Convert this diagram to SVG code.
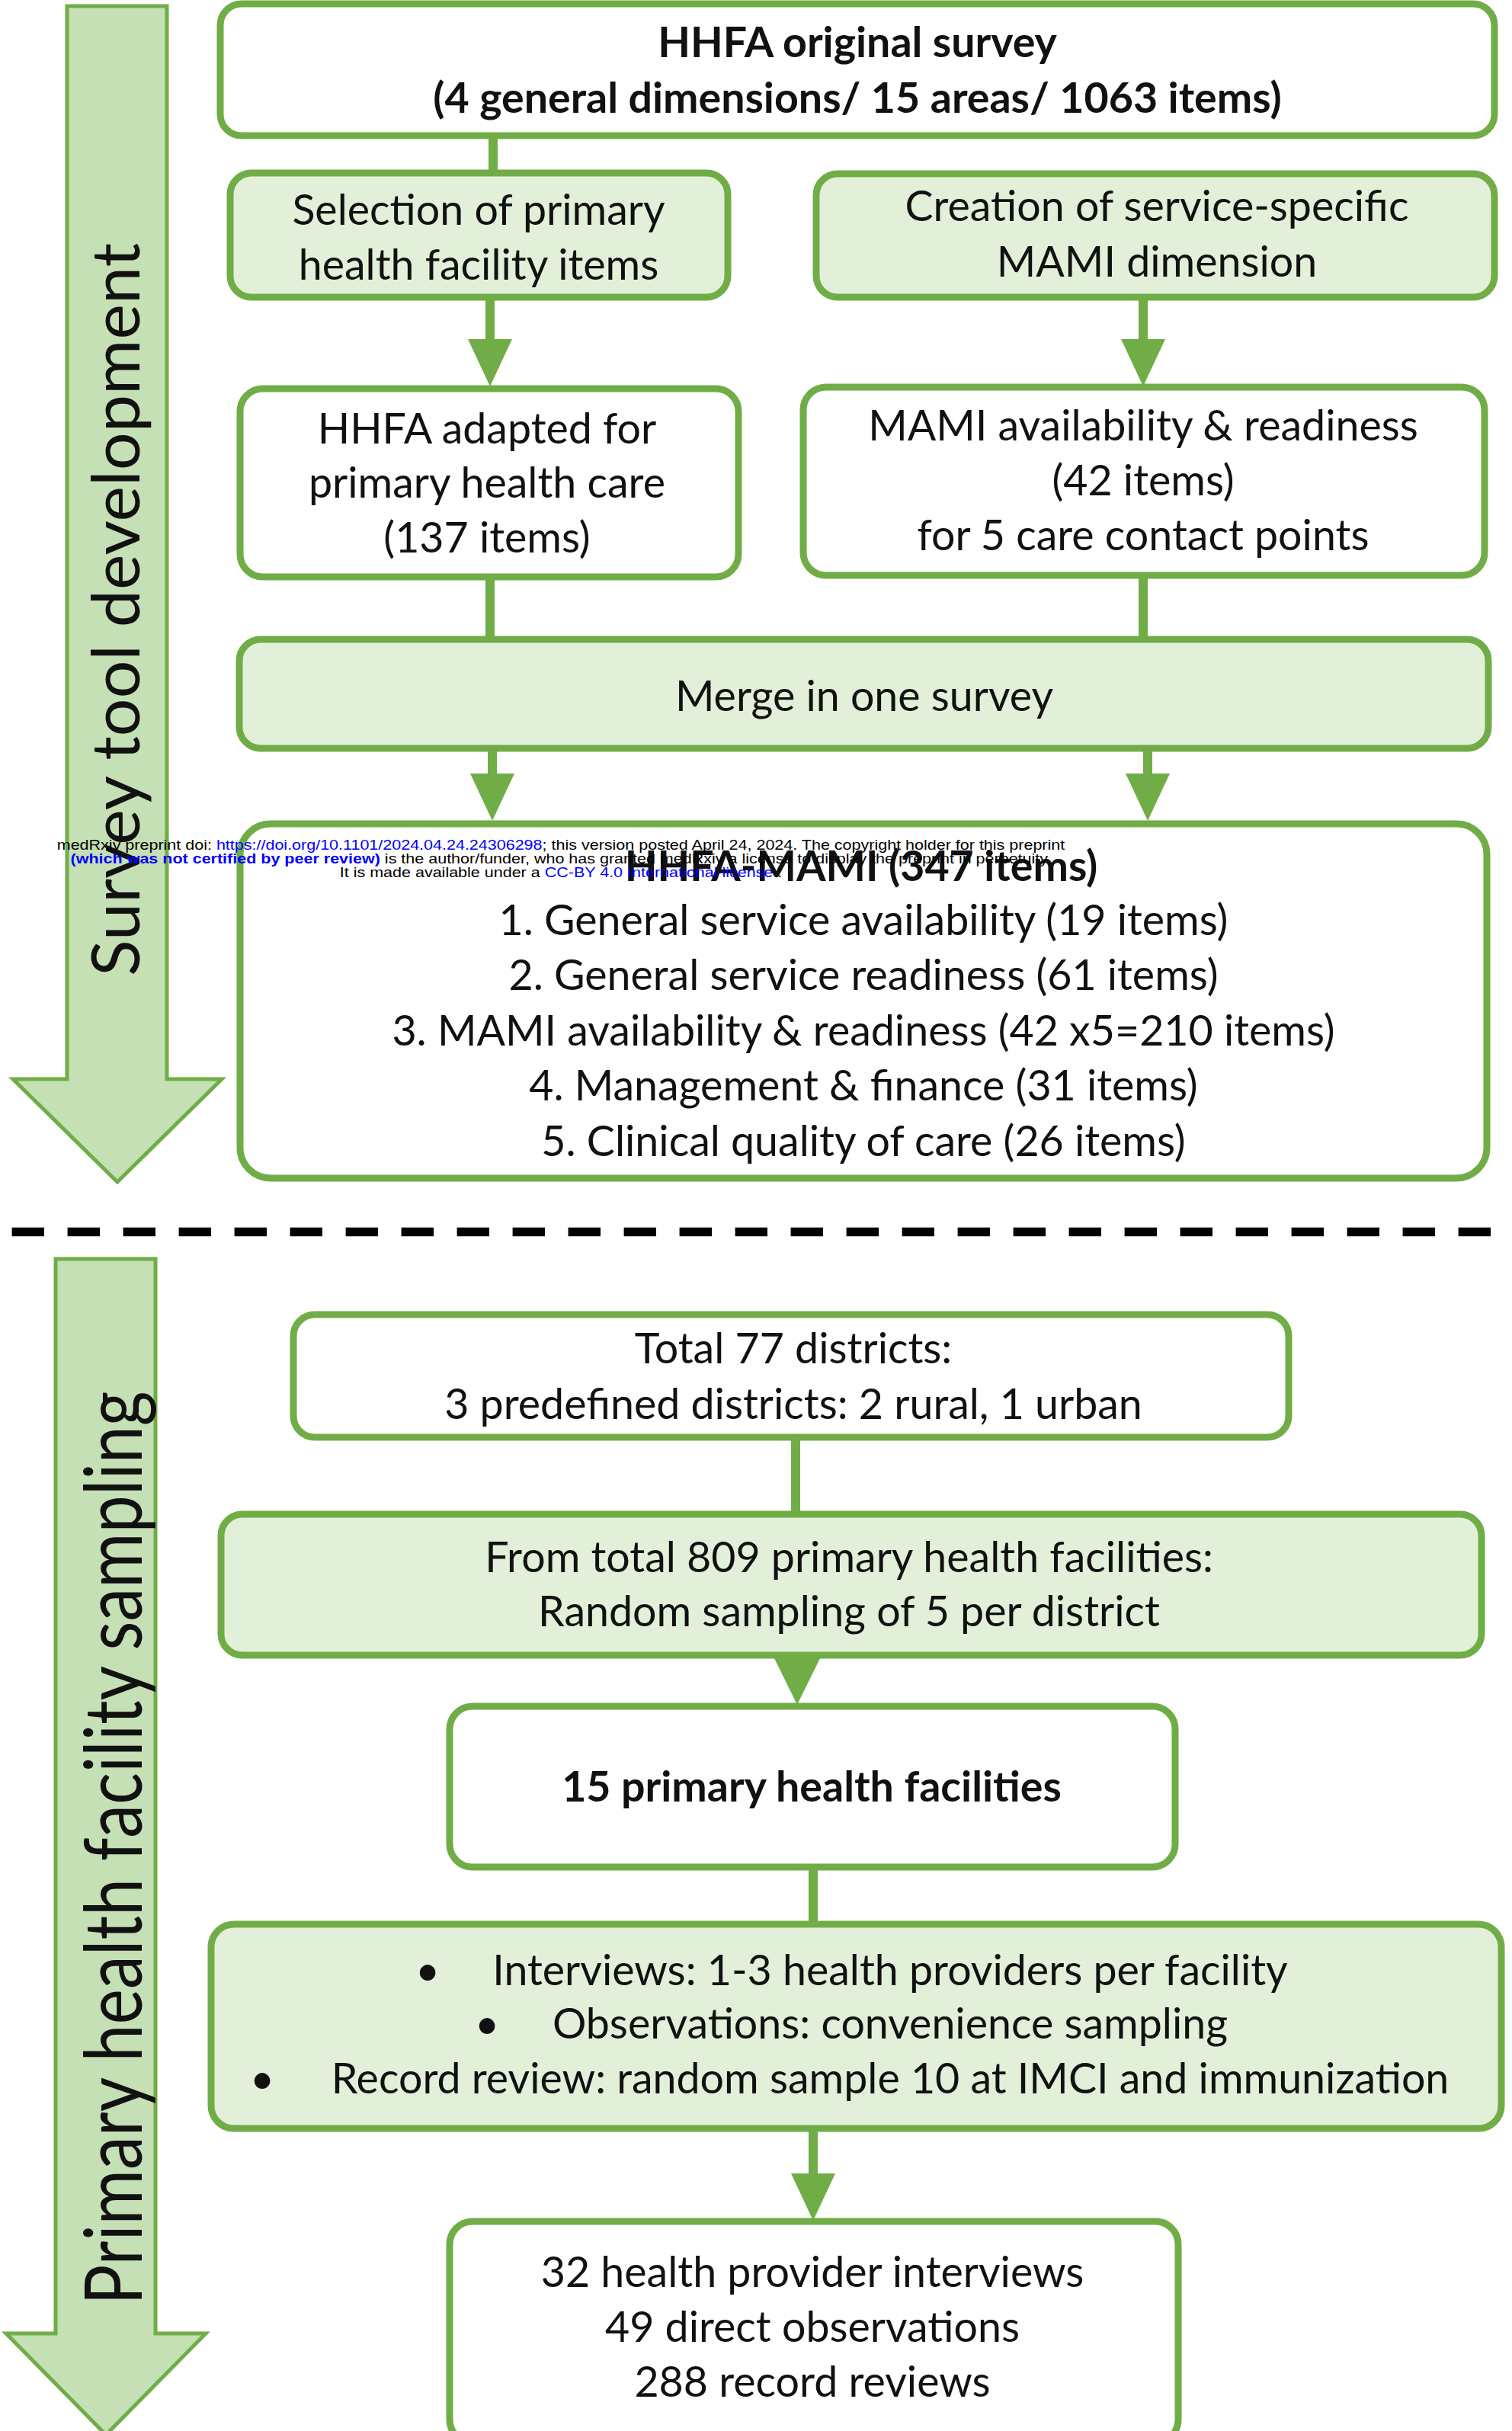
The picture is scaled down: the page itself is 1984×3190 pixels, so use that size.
<svg xmlns="http://www.w3.org/2000/svg" xmlns:xlink="http://www.w3.org/1999/xlink" width="1984" height="3190" viewBox="0 0 1984 3190">
<style>
.box{stroke:#70ad47;stroke-width:9}
.w{fill:#ffffff}
.g{fill:#e2f0d9}
.big{fill:#c5e0b4;stroke:#70ad47;stroke-width:5;stroke-linejoin:miter}
.t{font-family:Lato,"Open Sans","Liberation Sans",sans-serif;font-size:55.5px;fill:#111;text-anchor:middle}
.b{font-weight:700}
.side{font-family:Lato,"Open Sans","Liberation Sans",sans-serif;font-size:88px;fill:#111;text-anchor:middle}
.con line{stroke:#70ad47;stroke-width:12}
.ah{fill:#70ad47}
.wm{font-family:"Liberation Sans",Arial,sans-serif;font-size:18.8px;fill:#000;text-anchor:middle}
.blue{fill:#0000ff}
</style>
<defs>
<polygon id="head" points="-29,0 29,0 0,62" class="ah"/>
</defs>
<rect width="1984" height="3190" fill="#ffffff"/>

<g id="arrow-survey">
<polygon class="big" points="88,8 219,8 219,1416 291,1416 154,1551 17,1416 88,1416"/>
<text class="side" transform="translate(183,800) rotate(-90)">Survey tool development</text>
</g>

<g id="arrow-sampling">
<polygon class="big" points="73,1652 204,1652 204,3062 270,3062 139,3195 8,3062 73,3062"/>
<text class="side" transform="translate(186,2425) rotate(-90) scale(1,1.2)">Primary health facility sampling</text>
</g>

<g id="divider">
<line x1="15.6" y1="1616.5" x2="1984" y2="1616.5" stroke="#000" stroke-width="11.5" stroke-dasharray="42.4 30.6"/>
</g>

<g class="con" id="connectors">
<line x1="647" y1="176" x2="647" y2="230"/>
<line x1="643" y1="388" x2="643" y2="447"/>
<use xlink:href="#head" href="#head" x="643" y="445"/>
<line x1="1500" y1="388" x2="1500" y2="447"/>
<use xlink:href="#head" href="#head" x="1500" y="445"/>
<line x1="643" y1="755" x2="643" y2="842"/>
<line x1="1500" y1="753" x2="1500" y2="842"/>
<line x1="646" y1="980" x2="646" y2="1017"/>
<use xlink:href="#head" href="#head" x="646" y="1015"/>
<line x1="1506" y1="980" x2="1506" y2="1017"/>
<use xlink:href="#head" href="#head" x="1506" y="1015"/>
<line x1="1044" y1="1884" x2="1044" y2="1990"/>
<polygon class="ah" points="1014,2172 1078,2172 1046,2237"/>
<line x1="1067" y1="2448" x2="1067" y2="2528"/>
<line x1="1067" y1="2791" x2="1067" y2="2857"/>
<use xlink:href="#head" href="#head" x="1067" y="2852"/>
</g>

<g id="n-hhfa-original">
<rect class="box w" x="289" y="5" width="1672" height="173" rx="28"/>
<text class="t b" x="1125" y="75">HHFA original survey</text>
<text class="t b" x="1125" y="148">(4 general dimensions/ 15 areas/ 1063 items)</text>
</g>

<g id="n-selection">
<rect class="box g" x="302" y="227" width="653" height="163" rx="28"/>
<text class="t" x="628" y="295">Selection of primary</text>
<text class="t" x="628" y="367">health facility items</text>
</g>

<g id="n-creation">
<rect class="box g" x="1071" y="228" width="890" height="162" rx="28"/>
<text class="t" x="1518" y="290">Creation of service-specific</text>
<text class="t" x="1518" y="363">MAMI dimension</text>
</g>

<g id="n-hhfa-adapted">
<rect class="box w" x="315" y="510" width="654" height="247" rx="30"/>
<text class="t" x="639" y="582">HHFA adapted for</text>
<text class="t" x="639" y="653">primary health care</text>
<text class="t" x="639" y="725">(137 items)</text>
</g>

<g id="n-mami">
<rect class="box w" x="1054" y="508" width="894" height="247" rx="30"/>
<text class="t" x="1500" y="578">MAMI availability &amp; readiness</text>
<text class="t" x="1500" y="650">(42 items)</text>
<text class="t" x="1500" y="722">for 5 care contact points</text>
</g>

<g id="n-merge">
<rect class="box g" x="314" y="839" width="1639" height="143" rx="28"/>
<text class="t" x="1134" y="933">Merge in one survey</text>
</g>

<g id="n-hhfa-mami">
<rect class="box w" x="315" y="1081" width="1636" height="465" rx="40"/>
<text class="t b" x="1130" y="1156">HHFA-MAMI (347 items)</text>
<text class="t" x="1133" y="1227">1. General service availability (19 items)</text>
<text class="t" x="1133" y="1299">2. General service readiness (61 items)</text>
<text class="t" x="1133" y="1372">3. MAMI availability &amp; readiness (42 x5=210 items)</text>
<text class="t" x="1133" y="1444">4. Management &amp; finance (31 items)</text>
<text class="t" x="1133" y="1517">5. Clinical quality of care (26 items)</text>
</g>

<g id="n-districts">
<rect class="box w" x="385" y="1725" width="1306" height="161" rx="28"/>
<text class="t" x="1041" y="1789">Total 77 districts:</text>
<text class="t" x="1041" y="1862">3 predefined districts: 2 rural, 1 urban</text>
</g>

<g id="n-facilities-809">
<rect class="box g" x="290" y="1987" width="1654" height="185" rx="28"/>
<text class="t" x="1114" y="2063">From total 809 primary health facilities:</text>
<text class="t" x="1114" y="2134">Random sampling of 5 per district</text>
</g>

<g id="n-15-facilities">
<rect class="box w" x="590" y="2239" width="952" height="211" rx="30"/>
<text class="t b" x="1065" y="2364">15 primary health facilities</text>
</g>

<g id="n-methods">
<rect class="box g" x="277" y="2525" width="1693" height="268" rx="30"/>
<text class="t" x="561" y="2605">•</text>
<text class="t" x="1168" y="2605">Interviews: 1-3 health providers per facility</text>
<text class="t" x="639" y="2675">•</text>
<text class="t" x="1168" y="2675">Observations: convenience sampling</text>
<text class="t" x="344" y="2747">•</text>
<text class="t" x="1168" y="2747">Record review: random sample 10 at IMCI and immunization</text>
</g>

<g id="n-results">
<rect class="box w" x="590" y="2915" width="956" height="290" rx="30"/>
<text class="t" x="1066" y="3001">32 health provider interviews</text>
<text class="t" x="1066" y="3073">49 direct observations</text>
<text class="t" x="1066" y="3145">288 record reviews</text>
</g>

<g id="watermark" transform="translate(736 0) scale(1.145 1)">
<text class="wm" x="0" y="1115">medRxiv preprint doi: <tspan class="blue">https://doi.org/10.1101/2024.04.24.24306298</tspan>; this version posted April 24, 2024. The copyright holder for this preprint</text>
<text class="wm" x="0" y="1133"><tspan class="blue" font-weight="700">(which was not certified by peer review)</tspan> is the author/funder, who has granted medRxiv a license to display the preprint in perpetuity.</text>
<text class="wm" x="0" y="1151">It is made available under a <tspan class="blue">CC-BY 4.0 International license</tspan> .</text>
</g>
</svg>
